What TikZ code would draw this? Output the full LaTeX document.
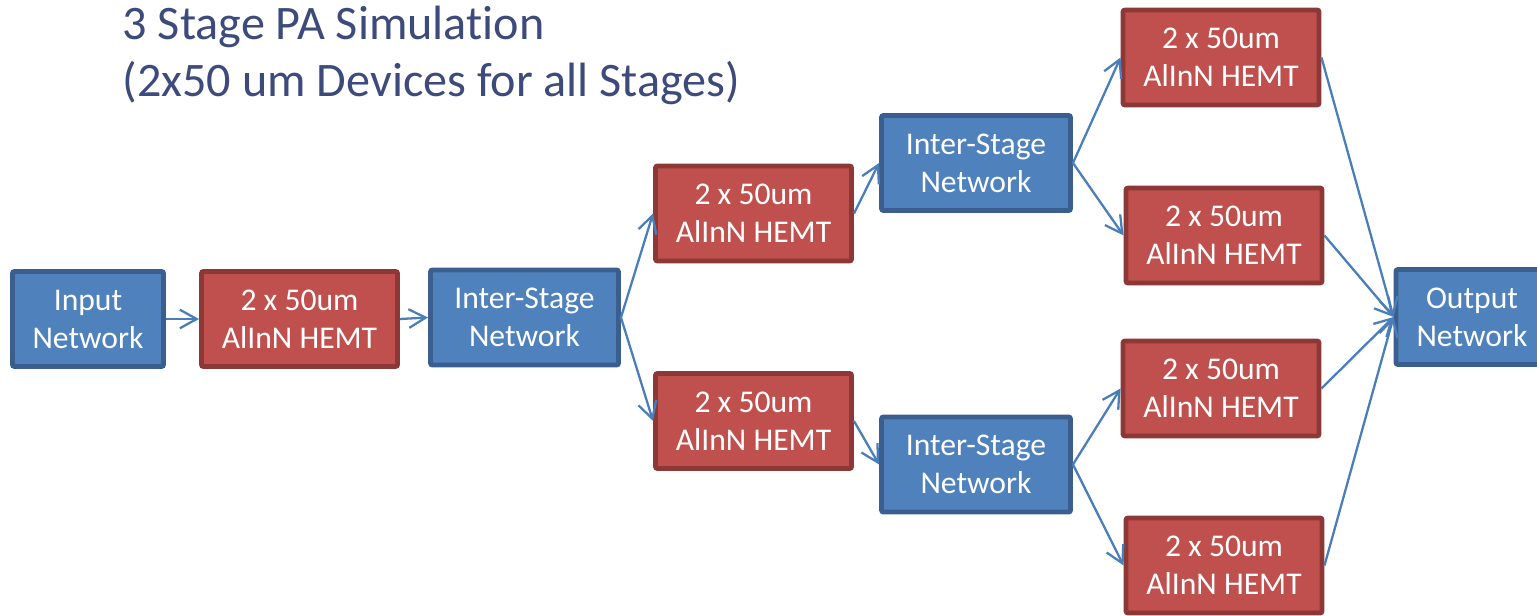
\documentclass[tikz,border=0pt]{standalone}
\usepackage{fontspec}
\setmainfont{Carlito}[Ligatures=NoCommon]
\usetikzlibrary{arrows.meta}
\definecolor{netblue}{HTML}{4F81BD}
\definecolor{netedge}{HTML}{3A5F8E}
\definecolor{devred}{HTML}{C0504D}
\definecolor{devedge}{HTML}{8C3836}
\definecolor{linkblue}{HTML}{4A7EBB}
\definecolor{titleblue}{HTML}{3C4A7C}
\tikzset{
  net/.style={draw=netedge, fill=netblue, line width=1.4pt, rounded corners=0.6pt,
    text=white, align=center, inner sep=0pt, minimum height=0.95cm,
    font=\fontsize{9}{10.8}\selectfont},
  dev/.style={net, draw=devedge, fill=devred, minimum width=1.96cm},
  link/.style={draw=linkblue, line width=0.65pt, -{Straight Barb[length=4.8pt,width=5.3pt]}}
}

\begin{document}
\begin{tikzpicture}
  \useasboundingbox (0,0) rectangle (15.37,6.15);
  \clip (0,0) rectangle (15.37,6.15);

  \node [anchor=north west, inner sep=0pt, align=left, text=titleblue,
    font=\fontsize{13.7}{16.4}\selectfont] (title) at (1.22,6.10)
    {3 Stage PA Simulation\\(2x50 um Devices for all Stages)};

  % first stage
  \node [net, minimum width=1.51cm] (in) at (0.88,2.96) {Input\\Network};
  \node [dev] (d1) at (2.995,2.96) {2 x 50um\\AlInN HEMT};
  \node [net, minimum width=1.88cm] (is1) at (5.245,2.975) {Inter-Stage\\Network};

  % second stage
  \node [dev] (d2) at (7.535,4.015) {2 x 50um\\AlInN HEMT};
  \node [dev] (d3) at (7.535,1.94) {2 x 50um\\AlInN HEMT};
  \node [net, minimum width=1.89cm] (is2) at (9.76,4.52) {Inter-Stage\\Network};
  \node [net, minimum width=1.89cm] (is3) at (9.76,1.505) {Inter-Stage\\Network};

  % third stage
  \node [dev] (d4) at (12.21,5.575) {2 x 50um\\AlInN HEMT};
  \node [dev] (d5) at (12.24,3.795) {2 x 50um\\AlInN HEMT};
  \node [dev] (d6) at (12.21,2.265) {2 x 50um\\AlInN HEMT};
  \node [dev] (d7) at (12.24,0.495) {2 x 50um\\AlInN HEMT};
  \node [net, minimum width=1.52cm] (out) at (14.72,2.98) {Output\\Network};

  \foreach \from/\to in
  {in/d1, d1/is1, is1/d2, is1/d3, d2/is2, d3/is3,
   is2/d4, is2/d5, is3/d6, is3/d7, d4/out, d5/out, d6/out, d7/out}
  {
   \draw [link] (\from.east) -- (\to.west);
  }

\end{tikzpicture}
\end{document}
